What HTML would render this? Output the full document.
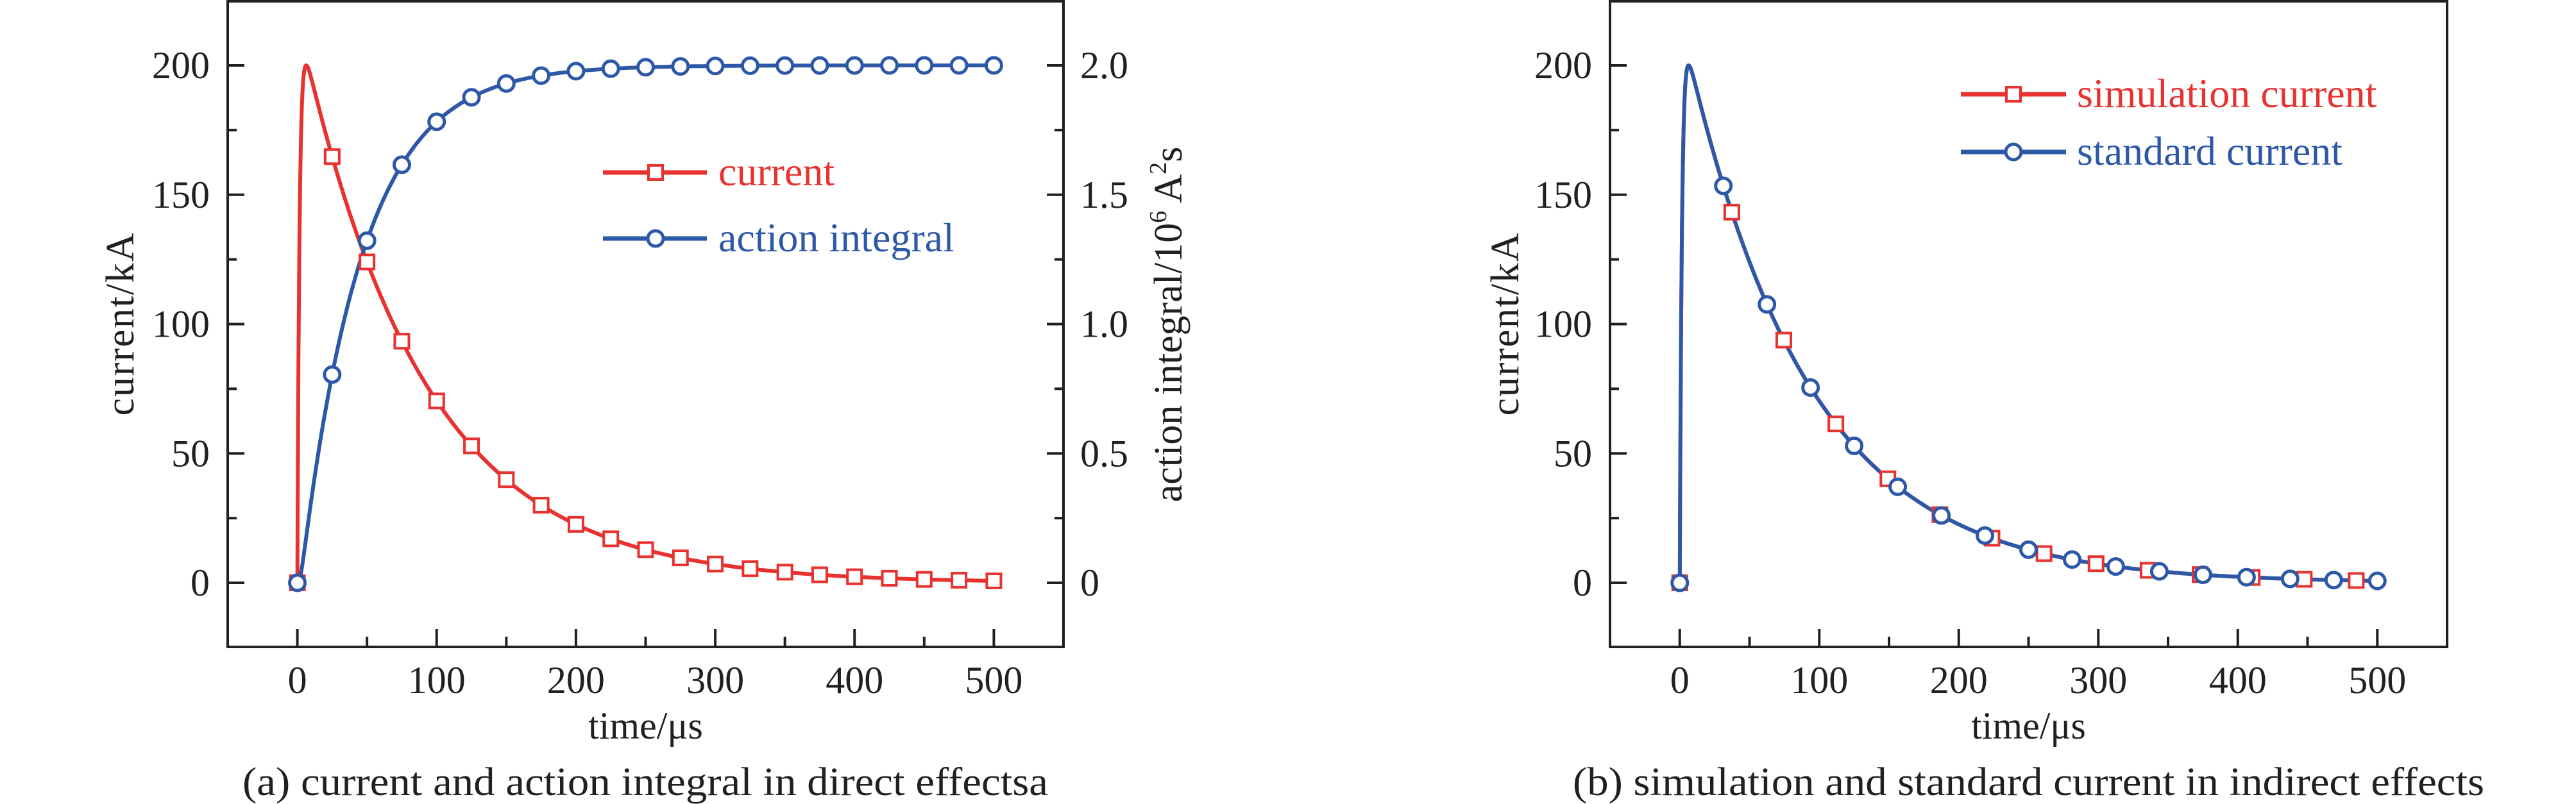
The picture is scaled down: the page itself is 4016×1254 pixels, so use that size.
<!DOCTYPE html>
<html><head><meta charset="utf-8"><style>
html,body{margin:0;padding:0;background:#fff;}
svg{display:block;}
text{font-family:"Liberation Serif",serif;fill:#231f20;}
</style></head><body>
<svg id="s" width="4016" height="1254" viewBox="0 0 4016 1254" xmlns="http://www.w3.org/2000/svg"></svg>
<script>
const S=document.getElementById('s');let h='';
const RED='#e8322f',BLUE='#2d58a8',K='#231f20';
function I(t){if(t<=0)return 0;return 218.81*(Math.exp(-0.011354*t)-Math.exp(-0.647265*t));}
// action integral (normalized to 2.0 at infinity)
const ai=[];let acc=0;const dt=0.05;ai[0]=0;
for(let k=1;k<=10000;k++){const t=k*dt;acc+=Math.pow(I(t-dt/2),2)*dt;ai[k]=acc;}
const tot=ai[10000];
function A(t){return 200*ai[Math.round(t/dt)]/tot;}
function panel(L,R,right){
  const T=2,B=1009;
  const x0=L+50*(R-L)/600, sx=(R-L)/600;
  const X=t=>x0+t*sx, Y=v=>909-v*(807/200);
  h+=`<rect x="${L}" y="${T}" width="${R-L}" height="${B-T}" fill="none" stroke="${K}" stroke-width="4"/>`;
  for(let v=-25;v<=225;v+=25){if(v<0||v>200&&v!=225) {} const y=Y(v);if(y<T+5||y>B-5)continue;
    const maj=v%50==0,len=maj?26:14;
    h+=`<line x1="${L}" y1="${y}" x2="${L+len}" y2="${y}" stroke="${K}" stroke-width="4"/>`;
    if(right)h+=`<line x1="${R}" y1="${y}" x2="${R-len}" y2="${y}" stroke="${K}" stroke-width="4"/>`;
    if(maj){h+=`<text x="${L-28}" y="${y+20}" font-size="60" text-anchor="end">${v}</text>`;
      if(right){const lab=v==0?'0':(v/100).toFixed(1);h+=`<text x="${R+26}" y="${y+20}" font-size="60">${lab}</text>`;}}
  }
  for(let t=0;t<=500;t+=50){const x=X(t),maj=t%100==0,len=maj?28:16;
    h+=`<line x1="${x}" y1="${B}" x2="${x}" y2="${B-len}" stroke="${K}" stroke-width="4"/>`;
    if(maj)h+=`<text x="${x}" y="${1081}" font-size="60" text-anchor="middle">${t}</text>`;}
  h+=`<text x="${X(250)}" y="1152" font-size="60" text-anchor="middle">time/μs</text>`;
  return {X,Y};
}
function curve(f,X,Y,col){let d='';for(let t=0;t<=500;t+=(t<20?0.2:2)){d+=(d?'L':'M')+X(t).toFixed(1)+','+Y(f(t)).toFixed(1);}
  h+=`<path d="${d}" fill="none" stroke="${col}" stroke-width="6" stroke-linejoin="round"/>`;}
function sq(x,y){h+=`<rect x="${x-11}" y="${y-11}" width="22" height="22" fill="#fff" stroke="${RED}" stroke-width="4"/>`;}
function ci(x,y){h+=`<circle cx="${x}" cy="${y}" r="12" fill="#fff" stroke="${BLUE}" stroke-width="5"/>`;}
// panel a
let p=panel(355,1658,true);
curve(I,p.X,p.Y,RED);curve(A,p.X,p.Y,BLUE);
for(let t=0;t<=500;t+=25){sq(p.X(t),p.Y(I(t)));}
for(let t=0;t<=500;t+=25){ci(p.X(t),p.Y(A(t)));}
h+=`<text transform="translate(208,506) rotate(-90)" font-size="62" text-anchor="middle" textLength="285">current/kA</text>`;
h+=`<text transform="translate(1842,506) rotate(-90)" font-size="62" text-anchor="middle">action integral/10<tspan font-size="38" dy="-24">6</tspan><tspan dy="24"> A</tspan><tspan font-size="38" dy="-24">2</tspan><tspan dy="24">s</tspan></text>`;
h+=`<line x1="940" y1="269" x2="1102" y2="269" stroke="${RED}" stroke-width="7"/>`;sq(1022,269);
h+=`<line x1="940" y1="372" x2="1102" y2="372" stroke="${BLUE}" stroke-width="7"/>`;ci(1022,372);
h+=`<text x="1120" y="289" font-size="64" fill="${RED}" style="fill:${RED}">current</text>`;
h+=`<text x="1120" y="392" font-size="64" style="fill:${BLUE}">action integral</text>`;
h+=`<text x="378" y="1240" font-size="62" textLength="1256" lengthAdjust="spacingAndGlyphs">(a) current and action integral in direct effectsa</text>`;
// panel b
p=panel(2510,3815,false);
curve(t=>I(t),p.X,p.Y,RED);curve(t=>I(t),p.X,p.Y,BLUE);
for(let i=0;i<=13;i++){const t=i*37.3;sq(p.X(t),p.Y(I(t)));}
for(let i=0;i<=16;i++){const t=i*31.25;ci(p.X(t),p.Y(I(t)));}
h+=`<text transform="translate(2367,506) rotate(-90)" font-size="62" text-anchor="middle" textLength="285">current/kA</text>`;
h+=`<line x1="3057" y1="147" x2="3221" y2="147" stroke="${RED}" stroke-width="7"/>`;sq(3139,147);
h+=`<line x1="3057" y1="237" x2="3221" y2="237" stroke="${BLUE}" stroke-width="7"/>`;ci(3139,237);
h+=`<text x="3238" y="167" font-size="64" style="fill:${RED}">simulation current</text>`;
h+=`<text x="3238" y="257" font-size="64" style="fill:${BLUE}">standard current</text>`;
h+=`<text x="2452" y="1240" font-size="62" textLength="1421" lengthAdjust="spacingAndGlyphs">(b) simulation and standard current in indirect effects</text>`;
S.innerHTML=h;
</script>
</body></html>
